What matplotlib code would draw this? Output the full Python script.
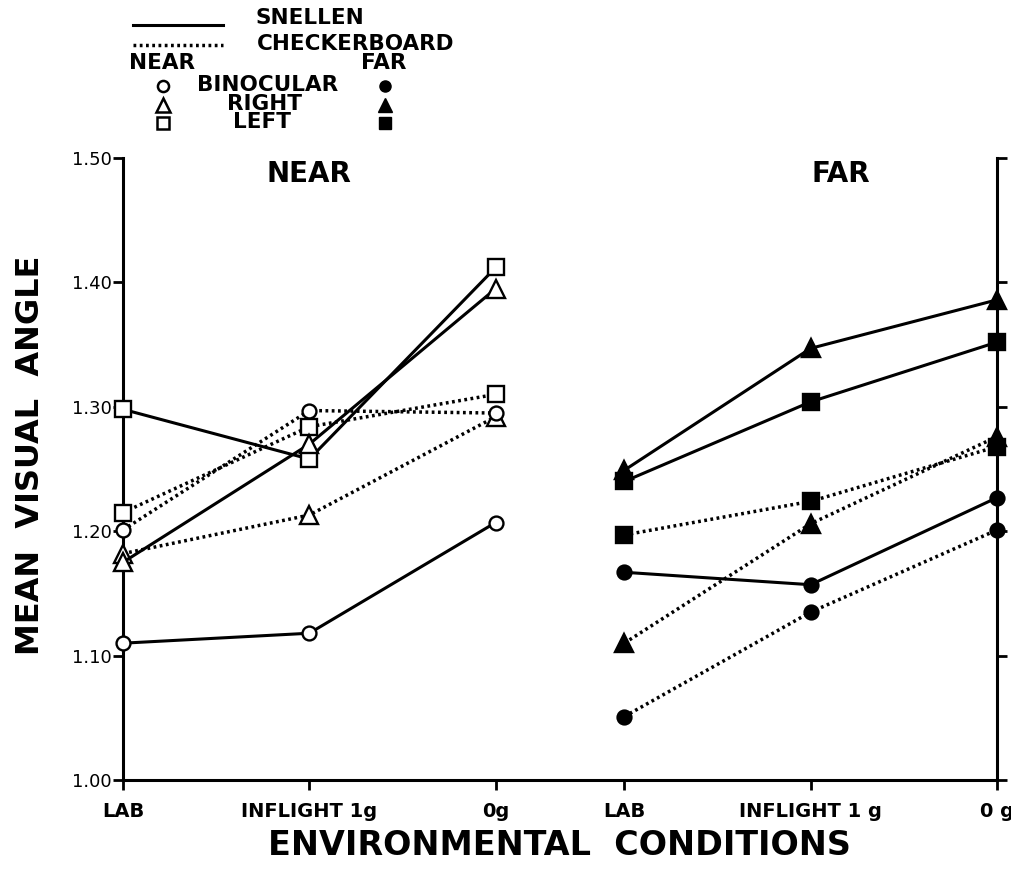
import numpy as np
import matplotlib
matplotlib.use("Agg")
import matplotlib.pyplot as plt

# conditions on the x axis, near block then far block
near_labels = ["LAB", "INFLIGHT 1g", "0g"]
far_labels = ["LAB", "INFLIGHT 1 g", "0 g"]
ytick_vals = [1.00, 1.10, 1.20, 1.30, 1.40, 1.50]
ytick_text = ["1.00", "1.10", "1.20", "1.30", "1.40", "1.50"]

# mean visual angle
# snellen = solid line, checkerboard = dotted line
near_snellen_bino = [1.110, 1.118, 1.207]
near_snellen_right = [1.175, 1.270, 1.395]
near_snellen_left = [1.298, 1.258, 1.412]
near_checker_bino = [1.201, 1.297, 1.295]
near_checker_right = [1.182, 1.213, 1.292]
near_checker_left = [1.215, 1.284, 1.310]

far_snellen_bino = [1.167, 1.157, 1.227]
far_snellen_right = [1.249, 1.347, 1.386]
far_snellen_left = [1.240, 1.304, 1.352]
far_checker_bino = [1.051, 1.135, 1.201]
far_checker_right = [1.110, 1.206, 1.276]
far_checker_left = [1.197, 1.224, 1.268]

x_near = np.arange(3)
x_far = x_near + 2.69

DOTS = (0, (0.8, 1.0))

fig = plt.figure(figsize=(10.12, 8.73), dpi=100)
ax = fig.add_axes([0.1215, 0.1065, 0.8637, 0.7125])


def draw(x, y, marker, filled, dotted, ms):
    ax.plot(x, y, color="black",
            lw=2.5 if dotted else 2.2,
            ls=DOTS if dotted else "-",
            dash_capstyle="butt",
            marker=marker, ms=ms,
            mfc="black" if filled else "white",
            mec="black", mew=1.7, clip_on=False, zorder=3)


# near block - open symbols
draw(x_near, near_checker_left, "s", False, True, 11)
draw(x_near, near_checker_right, "^", False, True, 13)
draw(x_near, near_checker_bino, "o", False, True, 10)
draw(x_near, near_snellen_left, "s", False, False, 11)
draw(x_near, near_snellen_right, "^", False, False, 13)
draw(x_near, near_snellen_bino, "o", False, False, 10)

# far block - filled symbols
draw(x_far, far_checker_left, "s", True, True, 11)
draw(x_far, far_checker_right, "^", True, True, 13)
draw(x_far, far_checker_bino, "o", True, True, 10)
draw(x_far, far_snellen_left, "s", True, False, 11)
draw(x_far, far_snellen_right, "^", True, False, 13)
draw(x_far, far_snellen_bino, "o", True, False, 10)

ax.set_xlim(x_near[0], x_far[-1])
ax.set_ylim(1.0, 1.5)
ax.set_xticks(np.concatenate([x_near, x_far]))
ax.set_xticklabels(near_labels + far_labels, fontsize=14, fontweight="bold")
ax.set_yticks(ytick_vals)
ax.set_yticklabels(ytick_text, fontsize=13)
ax.tick_params(axis="y", direction="out", length=7, width=2, pad=1,
               right=True, labelright=False)
ax.tick_params(axis="x", direction="out", length=7, width=2, pad=9)
ax.spines["top"].set_visible(False)
for s in ["left", "right", "bottom"]:
    ax.spines[s].set_linewidth(2.2)

ax.text(1.0, 1.487, "NEAR", ha="center", va="center", fontsize=20,
        fontweight="bold")
ax.text(3.85, 1.487, "FAR", ha="center", va="center", fontsize=20,
        fontweight="bold")

fig.text(0.03, 0.479, "MEAN  VISUAL  ANGLE", rotation=90, ha="center",
         va="center", fontsize=23, fontweight="bold")
fig.text(0.553, 0.032, "ENVIRONMENTAL  CONDITIONS", ha="center",
         va="center", fontsize=24, fontweight="bold")

# key drawn in pixel space at the top left
lax = fig.add_axes([0, 0, 1, 1], zorder=-1)
lax.set_xlim(0, 1012)
lax.set_ylim(873, 0)
lax.axis("off")
kw = dict(fontsize=15.5, fontweight="bold", va="center")
lax.plot([133, 223], [25, 25], color="black", lw=2.2)
lax.plot([133, 223], [45, 45], color="black", lw=2.5, ls=DOTS,
         dash_capstyle="butt")
lax.text(256, 18, "SNELLEN", **kw)
lax.text(257, 44, "CHECKERBOARD", **kw)
lax.text(129, 63, "NEAR", **kw)
lax.text(361, 63, "FAR", **kw)
key_rows = [("o", "BINOCULAR", 197, 85, 8),
            ("^", "RIGHT", 227, 104, 10),
            ("s", "LEFT", 233, 122, 9)]
for mk, name, tx, ty, ms in key_rows:
    lax.plot([163], [ty + 1], marker=mk, ms=ms, mfc="white", mec="black",
             mew=1.8, ls="none")
    lax.plot([385], [ty + 1], marker=mk, ms=ms, mfc="black", mec="black",
             ls="none")
    lax.text(tx, ty, name, **kw)

fig.savefig("out.png", dpi=100)
